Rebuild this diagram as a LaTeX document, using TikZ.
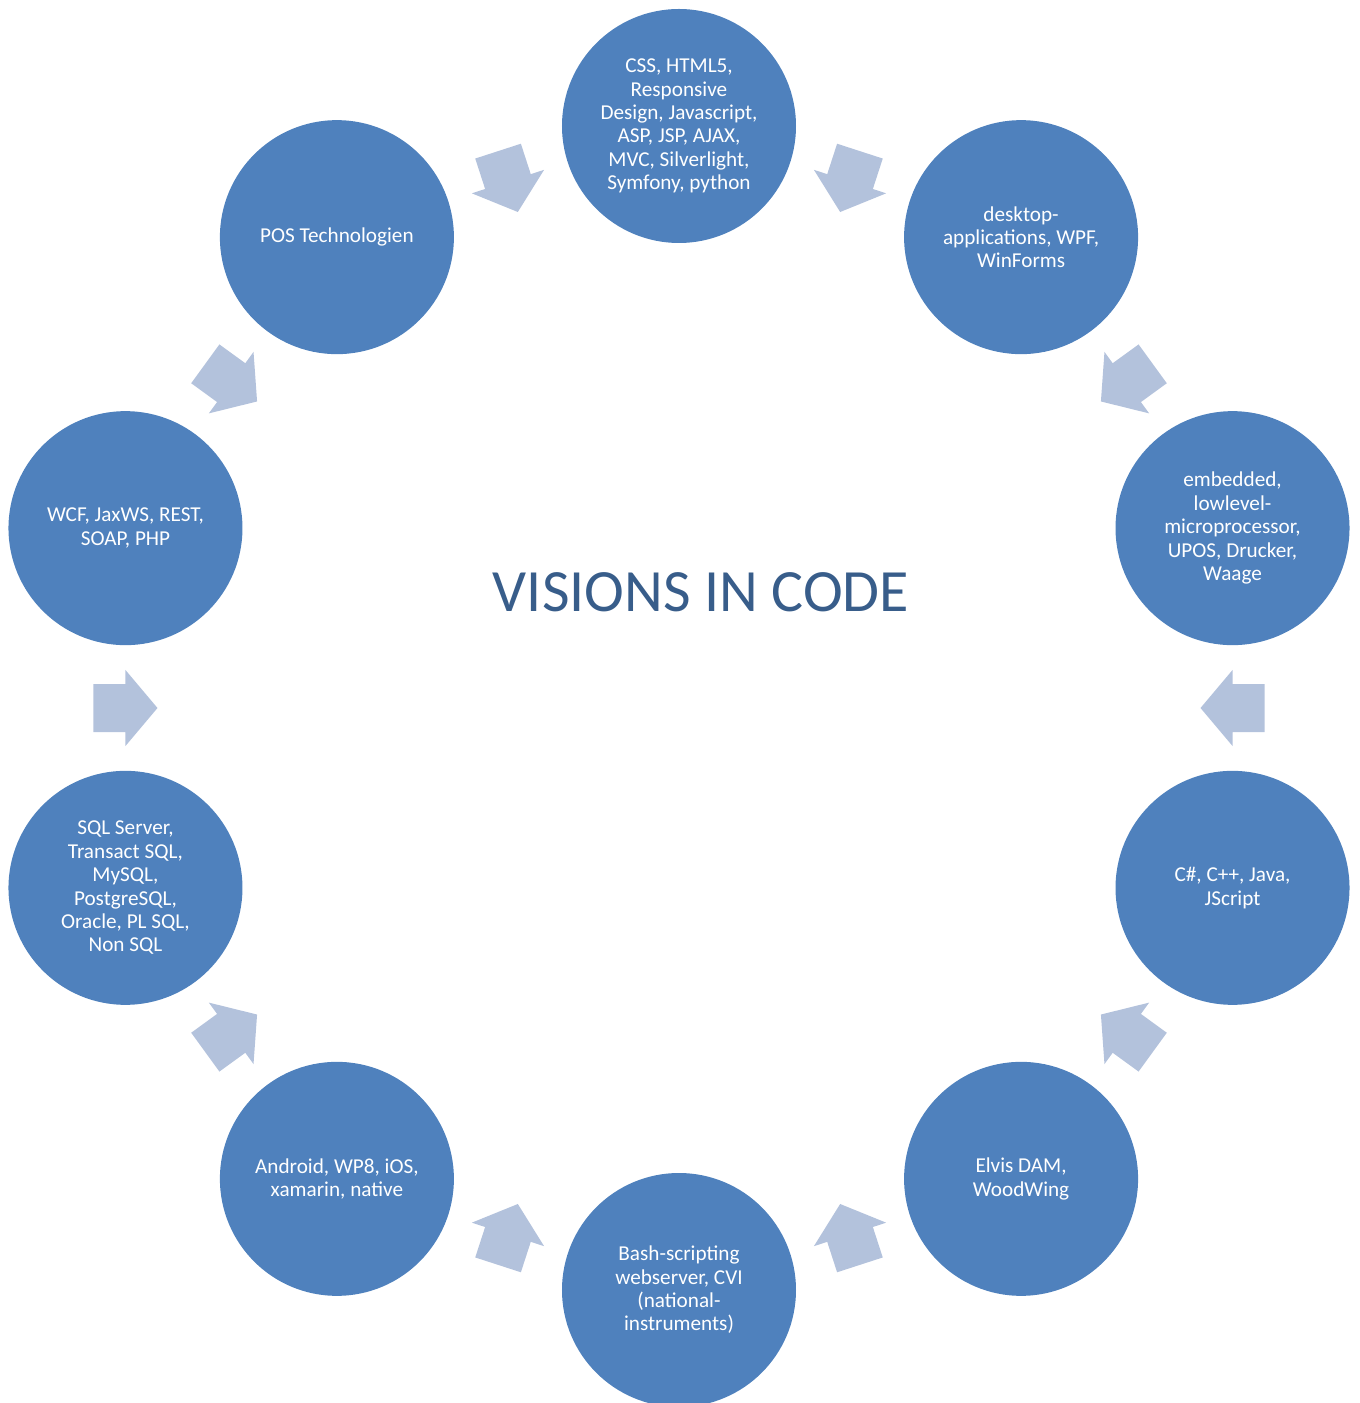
\documentclass[tikz,border=0pt]{standalone}
\usepackage{fontspec}
\setmainfont{Carlito}
\usetikzlibrary{calc}
\definecolor{circblue}{RGB}{79,129,189}
\definecolor{arrowblue}{RGB}{179,194,220}
\definecolor{titleblue}{RGB}{56,93,138}
\tikzset{
  topic/.style={circle,fill=circblue,draw=none,minimum size=117pt,inner sep=0pt,
    text=white,align=center,font=\fontsize{10.6}{11.7}\selectfont},
  cyclearrow/.style={fill=arrowblue,draw=none},
  titletext/.style={text=titleblue,anchor=base,font=\fontsize{30}{36}\selectfont}
}

\begin{document}
\begin{tikzpicture}[x=0.5pt,y=0.5pt]
    \clip (-679,-695) rectangle (681,708);
    \node[topic] (c1) at (90:582) {CSS, HTML5,\\Responsive\\Design, Javascript,\\ASP, JSP, AJAX,\\MVC, Silverlight,\\Symfony, python};
    \node[topic] (c2) at (54:582) {desktop-\\applications, WPF,\\WinForms};
    \node[topic] (c3) at (18:582) {embedded,\\lowlevel-\\microprocessor,\\UPOS, Drucker,\\Waage};
    \node[topic] (c4) at (-18:582) {C\#, C++, Java,\\JScript};
    \node[topic] (c5) at (-54:582) {Elvis DAM,\\WoodWing};
    \node[topic] (c6) at (-90:582) {Bash-scripting\\webserver, CVI\\(national-\\instruments)};
    \node[topic] (c7) at (-126:582) {Android, WP8, iOS,\\xamarin, native};
    \node[topic] (c8) at (-162:582) {SQL Server,\\Transact SQL,\\MySQL,\\PostgreSQL,\\Oracle, PL SQL,\\Non SQL};
    \node[topic] (c9) at (162:582) {WCF, JaxWS, REST,\\SOAP, PHP};
    \node[topic] (c10) at (126:582) {POS Technologien};
    \node[titletext] (title) at (22,96) {VISIONS IN CODE};
    % block arrows between neighbours, all pointing to the middle
    \foreach \a/\b [count=\i] in {c1/c2,c2/c3,c3/c4,c4/c5,c5/c6,c6/c7,c7/c8,c8/c9,c9/c10,c10/c1} {
      \coordinate (m\i) at ($(\a)!0.5!(\b)$);
      \pgfmathsetmacro\dir{288-36*\i}
      \fill[cyclearrow,shift={(m\i)},rotate=\dir] (32,0) -- (0,38) -- (0,24) -- (-32,24)
        -- (-32,-24) -- (0,-24) -- (0,-38) -- cycle;
    }
\end{tikzpicture}
\end{document}
